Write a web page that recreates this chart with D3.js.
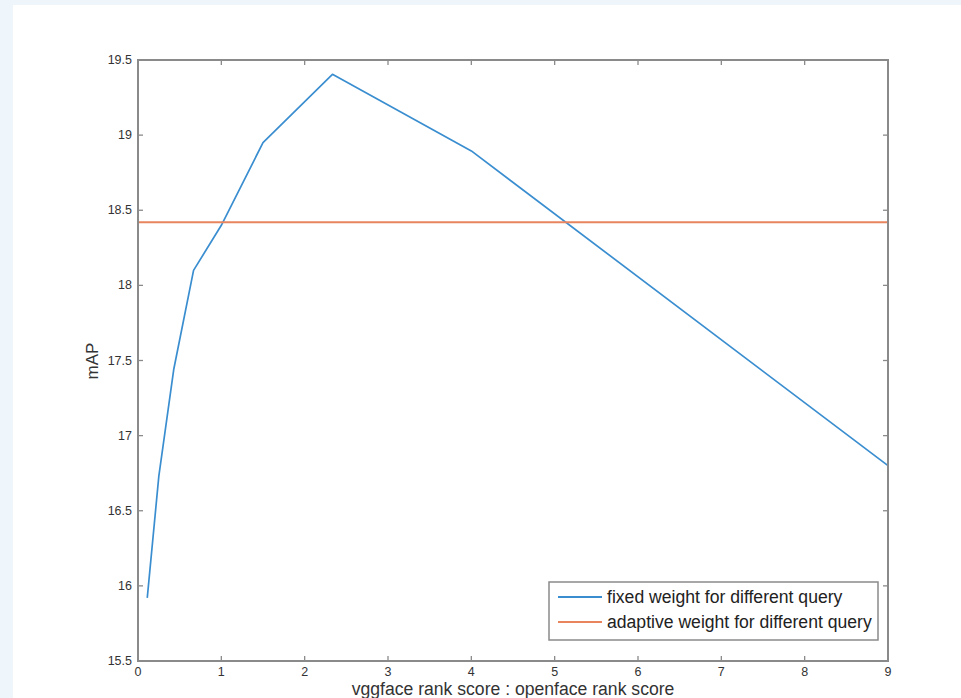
<!DOCTYPE html>
<html><head><meta charset="utf-8">
<script src="https://cdn.jsdelivr.net/npm/d3@7"></script>
<style>
html,body{margin:0;padding:0;background:#eef5fb;}
svg{display:block;}
</style></head>
<body>
<svg id="chart" width="961" height="698"></svg>
<script>
const ratioX = [0.1111, 0.25, 0.4286, 0.6667, 1, 1.5, 2.3333, 4, 9];
const fixedMAP = [15.92, 16.73, 17.44, 18.10, 18.40, 18.95, 19.405, 18.895, 16.80];
const adaptiveMAP = 18.42;
const xTicks = [0,1,2,3,4,5,6,7,8,9];
const yTicks = [15.5,16,16.5,17,17.5,18,18.5,19,19.5];
const seriesNames = ["fixed weight for different query","adaptive weight for different query"];
const colors = ["#3a8ed0","#e8855f"];

const svg = d3.select("#chart");
svg.append("rect").attr("x",13).attr("y",5).attr("width",961-13).attr("height",698-5).attr("fill","#fff");

const L=138,R=888,T=60,B=661;
const x = d3.scaleLinear().domain([0,9]).range([L,R]);
const y = d3.scaleLinear().domain([15.5,19.5]).range([B,T]);
const axisColor="#8a8a8a", font="'Liberation Sans', Arial, sans-serif";

const g = svg.append("g");
const tl=5;
xTicks.forEach(t=>{
  g.append("line").attr("x1",x(t)).attr("x2",x(t)).attr("y1",B).attr("y2",B-tl).attr("stroke",axisColor).attr("stroke-width",1.3);
  g.append("line").attr("x1",x(t)).attr("x2",x(t)).attr("y1",T).attr("y2",T+tl).attr("stroke",axisColor).attr("stroke-width",1.3);
  g.append("text").attr("x",x(t)).attr("y",B+15).attr("text-anchor","middle").attr("font-family",font).attr("font-size",12.5).attr("fill","#333").text(t);
});
yTicks.forEach(t=>{
  g.append("line").attr("x1",L).attr("x2",L+tl).attr("y1",y(t)).attr("y2",y(t)).attr("stroke",axisColor).attr("stroke-width",1.3);
  g.append("line").attr("x1",R).attr("x2",R-tl).attr("y1",y(t)).attr("y2",y(t)).attr("stroke",axisColor).attr("stroke-width",1.3);
  g.append("text").attr("x",L-6).attr("y",y(t)+4).attr("text-anchor","end").attr("font-family",font).attr("font-size",12.5).attr("fill","#333").text(t);
});

const line = d3.line().x((d,i)=>x(ratioX[i])).y(d=>y(d));
svg.append("path").datum(fixedMAP).attr("d",line).attr("fill","none").attr("stroke",colors[0]).attr("stroke-width",1.7).attr("stroke-linejoin","round");
svg.append("line").attr("x1",x(0)).attr("x2",x(9)).attr("y1",y(adaptiveMAP)).attr("y2",y(adaptiveMAP)).attr("stroke",colors[1]).attr("stroke-width",2);

svg.append("rect").attr("x",L).attr("y",T).attr("width",R-L).attr("height",B-T).attr("fill","none").attr("stroke",axisColor).attr("stroke-width",2);

svg.append("text").attr("x",(L+R)/2+0).attr("y",695).attr("text-anchor","middle").attr("font-family",font).attr("font-size",17.6).attr("fill","#333").text("vggface rank score : openface rank score");
svg.append("text").attr("transform","translate(98,361) rotate(-90)").attr("text-anchor","middle").attr("font-family",font).attr("font-size",17).attr("fill","#333").text("mAP");

const lg = svg.append("g");
lg.append("rect").attr("x",549).attr("y",582).attr("width",329).attr("height",58).attr("fill","#fff").attr("stroke",axisColor).attr("stroke-width",1.5);
seriesNames.forEach((n,i)=>{
  const yy = 597+i*25;
  lg.append("line").attr("x1",558).attr("x2",602).attr("y1",yy).attr("y2",yy).attr("stroke",colors[i]).attr("stroke-width",2);
  lg.append("text").attr("x",607).attr("y",yy+6).attr("font-family",font).attr("font-size",17.6).attr("fill","#222").text(n);
});
</script>
</body></html>
